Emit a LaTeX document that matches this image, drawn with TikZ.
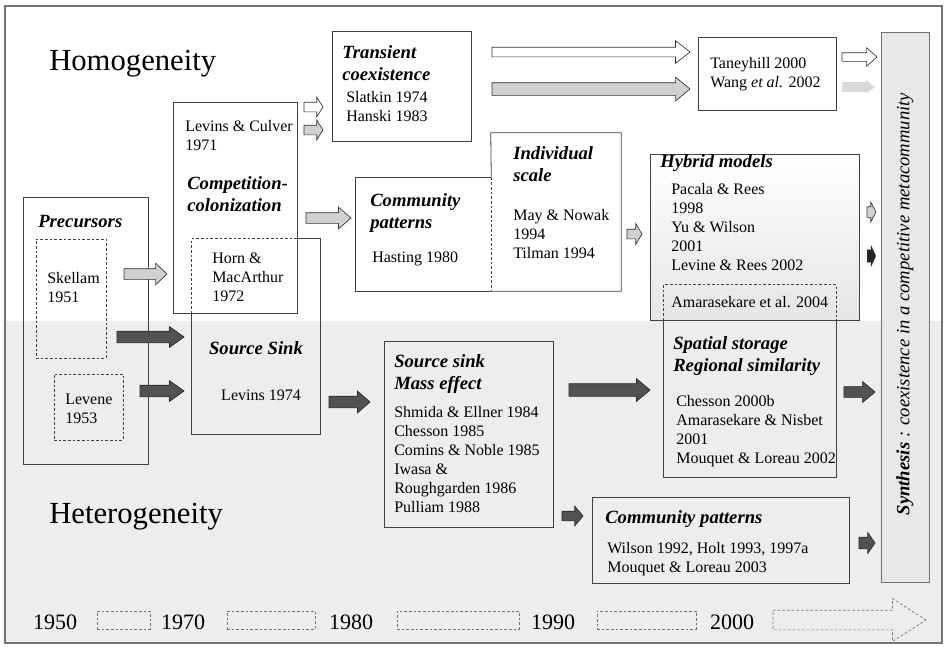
\documentclass[tikz,border=0pt]{standalone}
\usepackage{fontspec}
\setmainfont{Liberation Serif}
\usetikzlibrary{shapes.arrows,fit,calc}
\tikzset{
  box/.style={draw=black!75, line width=0.6pt, inner sep=0pt},
  nobox/.style={inner sep=0pt},
  dbox/.style={draw=black!75, line width=0.6pt, inner sep=0pt, dash pattern=on 2pt off 1.5pt},
  yearbox/.style={draw=black!55, line width=0.5pt, inner sep=0pt, dash pattern=on 2pt off 1.5pt},
  edge/.style={draw=black!75, line width=0.6pt},
  dedge/.style={draw=black!75, line width=0.6pt, dash pattern=on 2pt off 1.5pt},
  body/.style={font=\fontsize{12}{14.25}\selectfont, align=left, inner sep=0pt, anchor=base west},
  head/.style={font=\fontsize{14}{16.5}\selectfont\bfseries\itshape, align=left, inner sep=0pt, anchor=base west},
  big/.style={font=\fontsize{23}{27}\selectfont, inner sep=0pt, anchor=base west},
  year/.style={font=\fontsize{16.5}{19}\selectfont, inner sep=0pt, anchor=base},
  synthtxt/.style={font=\fontsize{14}{16}\selectfont\itshape, inner sep=0pt},
  barr/.style={single arrow, anchor=tail, inner xsep=0pt, outer sep=0pt, text height=0pt, text depth=0pt, line width=0.5pt},
  ba/.style n args={4}{barr, minimum height=#1*0.75pt, inner ysep=#2*0.75pt, single arrow head extend=(#3-#2)*0.75pt, single arrow tip angle=#4},
  whitearr/.style={draw=black!80, fill=white},
  grayarr/.style={draw=black!80, fill=black!18},
  darkarr/.style={draw=black!85, fill=black!68}
}
\begin{document}
\begin{tikzpicture}[x=0.75pt, y=-0.75pt]
\useasboundingbox (0,0) rectangle (944,646);
\fill[black!7] (5,321) rectangle (942,643);
\draw[black!55, line width=1.2pt] (5,6) rectangle (942,643);

% boxes
\node[box, fit={(332,31)(471,141)}] (trans) {};
\node[box, fit={(173,102)(297,313)}] (comp) {};
\node[box, fit={(23,197)(148,464)}] (prec) {};
\node[dbox, fit={(36,239)(106,358)}] (skel) {};
\node[dbox, fit={(54,374)(123,440)}] (lev) {};
\node[nobox, fit={(192,239)(320,434)}] (src) {};
\node[nobox, fit={(356,178)(491,291)}] (comm) {};
\node[nobox, fit={(491,133)(621,291)}] (indiv) {};
\node[box, fit={(698,37)(836,110)}] (tan) {};
\node[box, top color=white, bottom color=black!10, fit={(650,154)(859,320)}] (hyb) {};
\node[nobox, fit={(664,285)(836,477)}] (spat) {};
\node[box, fit={(384,341)(553,527)}] (mass) {};
\node[box, fit={(592,497)(849,583)}] (comm2) {};
\node[box, fill=black!9, draw=black!55, fit={(881,32)(929,582)}] (synth) {};

% overlapping edges
\draw[dedge] (src.west |- comp.south) -- (src.north west) -- (src.north -| comp.east);
\draw[edge] (src.north -| comp.east) -- (src.north east) -- (src.south east) -- (src.south west) -- (src.west |- comp.south);
\draw[edge] (comm.north east) -- (comm.north west) -- (comm.south west) -- (comm.south east);
\draw[dedge] (comm.north east) -- (comm.south east);
\draw[edge] (comm.north east) -- (indiv.north west) -- (indiv.north east) -- (indiv.south east) -- (indiv.south west);
\draw[dedge] (spat.west |- hyb.south) -- (spat.north west) -- (spat.north east) -- (spat.east |- hyb.south);
\draw[edge] (spat.east |- hyb.south) -- (spat.south east) -- (spat.south west) -- (spat.west |- hyb.south);

% texts (base = last line)
\node[big] (homo) at (49,70) {Homogeneity};
\node[big] (hete) at (49,523) {Heterogeneity};
\node[head] (transh) at (342,80) {Transient\\coexistence};
\node[body] (transb) at (346,121) {Slatkin 1974\\Hanski 1983};
\node[body] (compb) at (185,150) {Levins \& Culver\\1971};
\node[head] (comph) at (187,211) {Competition-\\colonization};
\node[head] (prech) at (38,227) {Precursors};
\node[body] (skelb) at (47,302) {Skellam\\1951};
\node[body] (levb) at (65,423) {Levene\\1953};
\node[body] (hornb) at (212,301) {Horn \&\\MacArthur\\1972};
\node[head, anchor=base] (srch) at (256,354) {Source Sink};
\node[body, anchor=base] (srcb) at (261,400) {Levins 1974};
\node[head] (commh) at (370,228) {Community\\patterns};
\node[body] (commb) at (372,262) {Hasting 1980};
\node[head] (indivh) at (513,181) {Individual\\scale};
\node[body] (indivb) at (513,258) {May \& Nowak\\1994\\Tilman 1994};
\node[body] (tanb) at (710,87) {Taneyhill 2000\\Wang \textit{et al.} 2002};
\node[head] (hybh) at (660,167) {Hybrid models};
\node[body] (hybb) at (671,270) {Pacala \& Rees\\1998\\Yu \& Wilson\\2001\\Levine \& Rees 2002};
\node[body] (amab) at (671,307) {Amarasekare et al. 2004};
\node[head] (spath) at (673,371) {Spatial storage\\Regional similarity};
\node[body] (spatb) at (676,463) {Chesson 2000b\\Amarasekare \& Nisbet\\2001\\Mouquet \& Loreau 2002};
\node[head] (massh) at (394,389) {Source sink\\Mass effect};
\node[body] (massb) at (394,512) {Shmida \& Ellner 1984\\Chesson 1985\\Comins \& Noble 1985\\Iwasa \&\\Roughgarden 1986\\Pulliam 1988};
\node[head] (comm2h) at (605,523) {Community patterns};
\node[body] (comm2b) at (607,572) {Wilson 1992, Holt 1993, 1997a\\Mouquet \& Loreau 2003};
\node[synthtxt, rotate=90] (syntht) at (905,304) {\textbf{Synthesis} : coexistence in a competitive metacommunity};

% block arrows
\node[ba={19}{4.5}{9.5}{115}, whitearr] (cc2tr) at (304,107) {};
\node[ba={19}{4.5}{9.5}{115}, grayarr] (cc2trg) at (304,130) {};
\node[ba={45}{5}{10.5}{82}, grayarr] (cc2cp) at (306,218) {};
\node[ba={43}{5}{10.5}{87}, grayarr] (sk2cc) at (124,274) {};
\node[ba={67}{5.5}{10}{71}, darkarr] (sk2ss) at (117,337) {};
\node[ba={44}{5.5}{10}{71}, darkarr] (lv2ss) at (140,391) {};
\node[ba={41}{5.5}{10.5}{82}, darkarr] (ss2me) at (329,402) {};
\node[ba={198}{4.5}{11}{76}, whitearr] (tr2tw) at (492,52) {};
\node[ba={198}{6}{11.5}{79}, grayarr] (tr2twg) at (492,89) {};
\node[ba={15}{4.5}{10}{118}, grayarr] (is2hy) at (627,234) {};
\node[ba={35}{4}{9}{84}, whitearr] (tw2sy) at (842,57) {};
\node[ba={33}{4.5}{6.5}{72}, fill=black!15] (tw2syg) at (842,87) {};
\node[ba={9}{5}{9.5}{124}, grayarr] (hy2sy) at (867,212) {};
\node[ba={9}{6}{11}{131}, fill=black!85] (hy2syd) at (867,256) {};
\node[ba={81}{6}{11}{80}, darkarr] (me2sp) at (569,390) {};
\node[ba={31}{5}{10}{80}, darkarr] (sp2sy) at (844,392) {};
\node[ba={21}{4.5}{9.5}{100}, darkarr] (me2cm) at (562,516) {};
\node[ba={16}{5.5}{10}{110}, darkarr] (cm2sy) at (859,543) {};

% time line
\node[year] (y50) at (55,629) {1950};
\node[yearbox, fit={(97,611)(150,629)}] (p1) {};
\node[year] (y70) at (183,629) {1970};
\node[yearbox, fit={(227,611)(315,629)}] (p2) {};
\node[year] (y80) at (351,629) {1980};
\node[yearbox, fit={(397,611)(519,629)}] (p3) {};
\node[year] (y90) at (553,629) {1990};
\node[yearbox, fit={(597,611)(696,629)}] (p4) {};
\node[year] (y00) at (732,629) {2000};
\node[ba={153}{9.5}{21}{65}, draw=black!55, dash pattern=on 2pt off 1.5pt] (tl) at (773,620) {};
\end{tikzpicture}
\end{document}
